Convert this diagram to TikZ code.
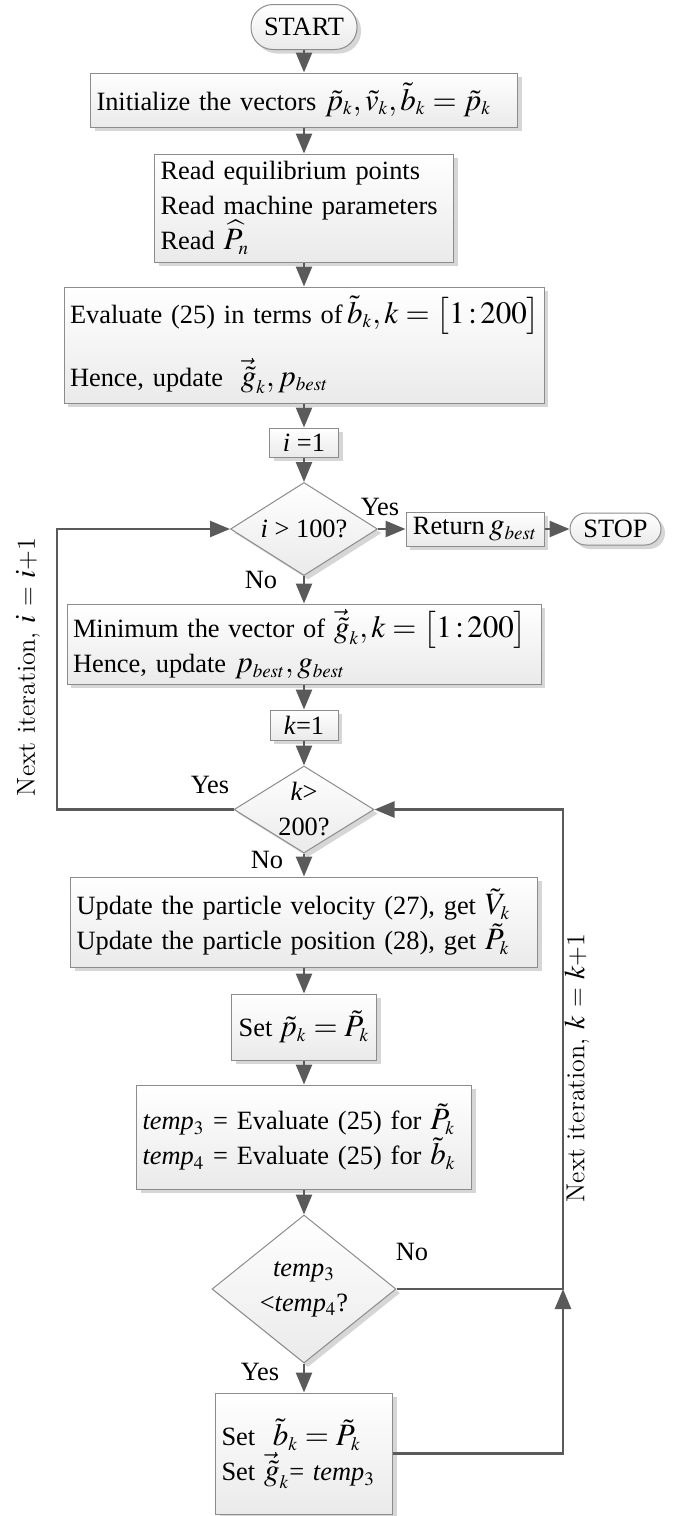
\documentclass[tikz,border=0pt]{standalone}
\usepackage{mathptmx}
\usepackage[no-math]{fontspec}
\setmainfont{Liberation Serif}
\usetikzlibrary{shapes.geometric,arrows.meta,shadows,calc}
\DeclareMathSizes{13.2}{15.5}{9.5}{7.5}
\DeclareMathSizes{13}{14.5}{9.5}{7.5}
\definecolor{linec}{HTML}{5A5A5A}
\definecolor{bordc}{HTML}{8C8C8C}
\definecolor{shadc}{HTML}{D6D6D6}
\definecolor{fillb}{HTML}{EAEAEA}
\newcommand\fsz{\fontsize{13.2}{17.5}\selectfont}
\newcommand\rotfsz{\fontsize{13}{15}\fontfamily{lmr}\selectfont}
\tikzset{
  base/.style={draw=bordc, line width=0.5pt, top color=white, bottom color=fillb,
    drop shadow={shadow xshift=2pt, shadow yshift=-2pt, fill=shadc, opacity=1},
    font=\fsz, inner sep=0pt},
  pbox/.style={base, rectangle, align=center},
  lbox/.style={base, rectangle, align=left, inner xsep=3pt},
  term/.style={base, rectangle, rounded corners=#1},
  dec/.style={base, diamond},
  arr/.style={draw=linec, line width=1.3pt, -{Triangle[length=10pt,width=8pt]}},
  lab/.style={font=\fsz, inner sep=0pt},
  rlab/.style={font=\rotfsz, inner sep=0pt, rotate=90},
}
\begin{document}
\begin{tikzpicture}[x=0.5pt,y=-0.5pt]
\useasboundingbox (0,0) rectangle (676,1516);

\node[term=11pt, minimum width=53pt, minimum height=22.5pt] (start) at (304,27) {START};
\node[lbox, text width=207.5pt, minimum height=27pt] (init) at (304,100)
  {Initialize the vectors \mbox{$\tilde{p}_k,\tilde{v}_k,\tilde{b}_k=\tilde{p}_k$}};
\node[lbox, text width=143.5pt, minimum height=54pt] (read) at (304,208)
  {Read equilibrium points\\Read machine parameters\\Read $\widehat{P}_n$};
\node[lbox, text width=234pt, minimum height=58pt] (eval) at (304,345)
  {\mbox{Evaluate (25) in terms of\,$\tilde{b}_k, k=\bigl[1\,{:}\,200\bigr]$}\\[11pt]
   Hence, update \ $\vec{\tilde{g}}_k, p_{best}$};
\node[pbox, minimum width=34.5pt, minimum height=14.5pt] (i1) at (304,442.5) {\textit{i} =1};
\node[dec, minimum width=73.5pt, minimum height=46.5pt,
  label={[lab]center:{\textit{i} > 100?}}] (d1) at (304,529) {};
\node[pbox, minimum width=69pt, minimum height=17pt] (ret) at (475,529) {Return\,$g_{best}$};
\node[term=8pt, minimum width=45.5pt, minimum height=16pt] (stop) at (615.5,529) {STOP};
\node[lbox, text width=231pt, minimum height=40pt] (minb) at (304,644)
  {\mbox{Minimum the vector of $\vec{\tilde{g}}_k, k=\bigl[1\,{:}\,200\bigr]$}\\
   Hence, update $p_{best}, g_{best}$};
\node[pbox, minimum width=34pt, minimum height=15pt] (k1) at (304,725) {\textit{k}=1};
\node[dec, minimum width=70pt, minimum height=43.5pt,
  label={[lab, align=center]center:{\textit{k}>\\200?}}] (d2) at (304,809.5) {};
\node[lbox, text width=227.5pt, minimum height=45pt] (upd) at (304,922)
  {Update the particle velocity (27), get $\tilde{V}_k$\\
   Update the particle position (28), get $\tilde{P}_k$};
\node[pbox, minimum width=72.5pt, minimum height=33pt] (set1) at (304,1027)
  {Set \mbox{$\tilde{p}_k=\tilde{P}_k$}};
\node[lbox, text width=161.5pt, minimum height=52pt] (temp) at (304,1137)
  {\textit{temp}$_3$ = Evaluate (25) for $\tilde{P}_k$\\
   \textit{temp}$_4$ = Evaluate (25) for $\tilde{b}_k$};
\node[dec, minimum width=92pt, minimum height=74pt,
  label={[lab, align=center]center:{\textit{temp}$_3$\\<\textit{temp}$_4$?}}] (d3) at (304,1289) {};
\node[lbox, text width=82.5pt, minimum height=60.5pt] (set2) at (304,1453.5)
  {Set \ \mbox{$\tilde{b}_k=\tilde{P}_k$}\\Set \mbox{$\vec{\tilde{g}}_k$= \textit{temp}$_3$}};

% labels
\node[lab] (y1) at (380,507) {Yes};
\node[lab] (n1) at (261,580) {No};
\node[lab] (y2) at (210,785) {Yes};
\node[lab] (n2) at (267,860) {No};
\node[lab] (n3) at (412,1252) {No};
\node[lab] (y3) at (260,1372) {Yes};
\node[rlab] (ni) at (28,667) {Next iteration, $i$ = $i$+1};
\node[rlab] (nk) at (577,1068) {Next iteration, $k$ = $k$+1};

% connectors
\draw[arr] (start.south) -- (init.north);
\draw[arr] (init.south) -- (read.north);
\draw[arr] (read.south) -- (eval.north);
\draw[arr] (eval.south) -- (i1.north);
\draw[arr] (i1.south) -- (d1.north);
\draw[arr] (d1.east) -- (ret.west);
\draw[arr] (ret.east) -- (stop.west);
\draw[arr] (d1.south) -- (minb.north);
\draw[arr] (minb.south) -- (k1.north);
\draw[arr] (k1.south) -- (d2.north);
\draw[arr] (d2.south) -- (upd.north);
\draw[arr] (upd.south) -- (set1.north);
\draw[arr] (set1.south) -- (temp.north);
\draw[arr] (temp.south) -- (d3.north);
\draw[arr] (d3.south) -- (set2.north);

\coordinate (lx) at (57,0);
\coordinate (rx) at (563,0);
\draw[arr] (d2.west) -- (d2.west -| lx) -- (lx |- d1.west) -- (d1.west);
\draw[arr] (d3.east) -- (d3.east -| rx) -- (rx |- d2.east) -- (d2.east);
\draw[arr] (set2.east) -- (set2.east -| rx) -- (rx |- d3.east);
\end{tikzpicture}
\end{document}
